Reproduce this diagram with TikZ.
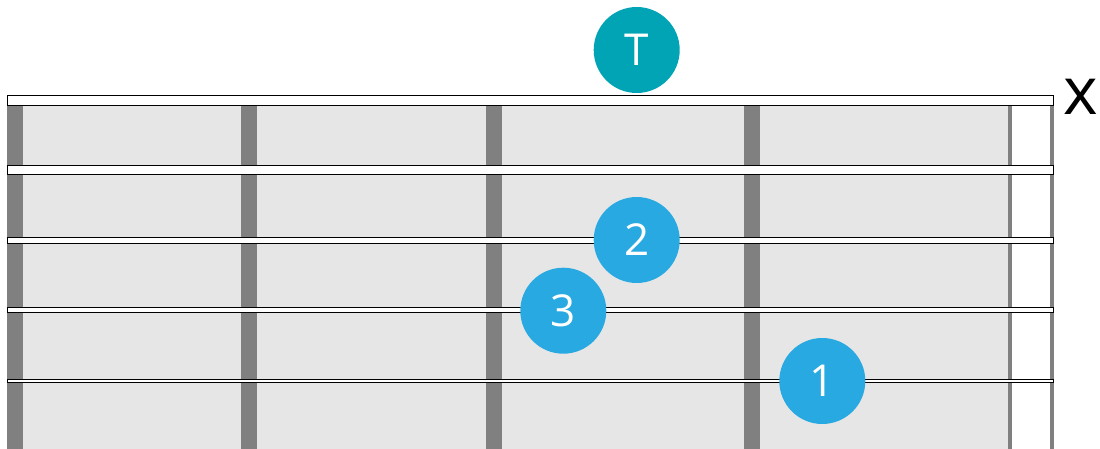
\documentclass[tikz,border=0pt]{standalone}
\usepackage{fontspec}
\setmainfont{Open Sans}
\definecolor{boardgray}{HTML}{E6E6E6}
\definecolor{fretgray}{HTML}{808080}
\definecolor{fingerblue}{HTML}{29A9E1}
\definecolor{tonicteal}{HTML}{00A4B5}
\tikzset{
    stringbar/.style={draw=black, fill=white, line width=1pt},
    fingerdot/.style={circle, minimum size=86pt, inner sep=0pt, text=white,
        font=\fontsize{44}{44}\selectfont},
}
\begin{document}
\begin{tikzpicture}[x=1pt,y=1pt]
    \useasboundingbox (0,0) rectangle (1100,-449);
    \fill[boardgray] (7,-100) rectangle (1008,-449);
    \foreach \x in {7,241,486,744}
        \fill[fretgray] (\x,-100) rectangle (\x+16,-449);
    \fill[fretgray] (1007.5,-100) rectangle (1011.5,-449);
    \fill[fretgray] (1050,-100) rectangle (1054,-449);
    \foreach \y/\h in {100.5/10,170/9,240/6,310.3/5,381/3.5}
        \draw[stringbar] (7,{-\y+\h/2}) rectangle (1053,{-\y-\h/2});
    \node[fingerdot, fill=tonicteal] (tonic) at (636.7,-50) {T};
    \node[fingerdot, fill=fingerblue] (finger2) at (636.7,-240) {2};
    \node[fingerdot, fill=fingerblue] (finger3) at (563.3,-310.7) {3};
    \node[fingerdot, fill=fingerblue] (finger1) at (822.3,-381) {1};
    \node[font=\fontsize{66}{66}\selectfont, inner sep=0pt, anchor=base]
        (muted) at (1081,-115) {x};
\end{tikzpicture}
\end{document}
